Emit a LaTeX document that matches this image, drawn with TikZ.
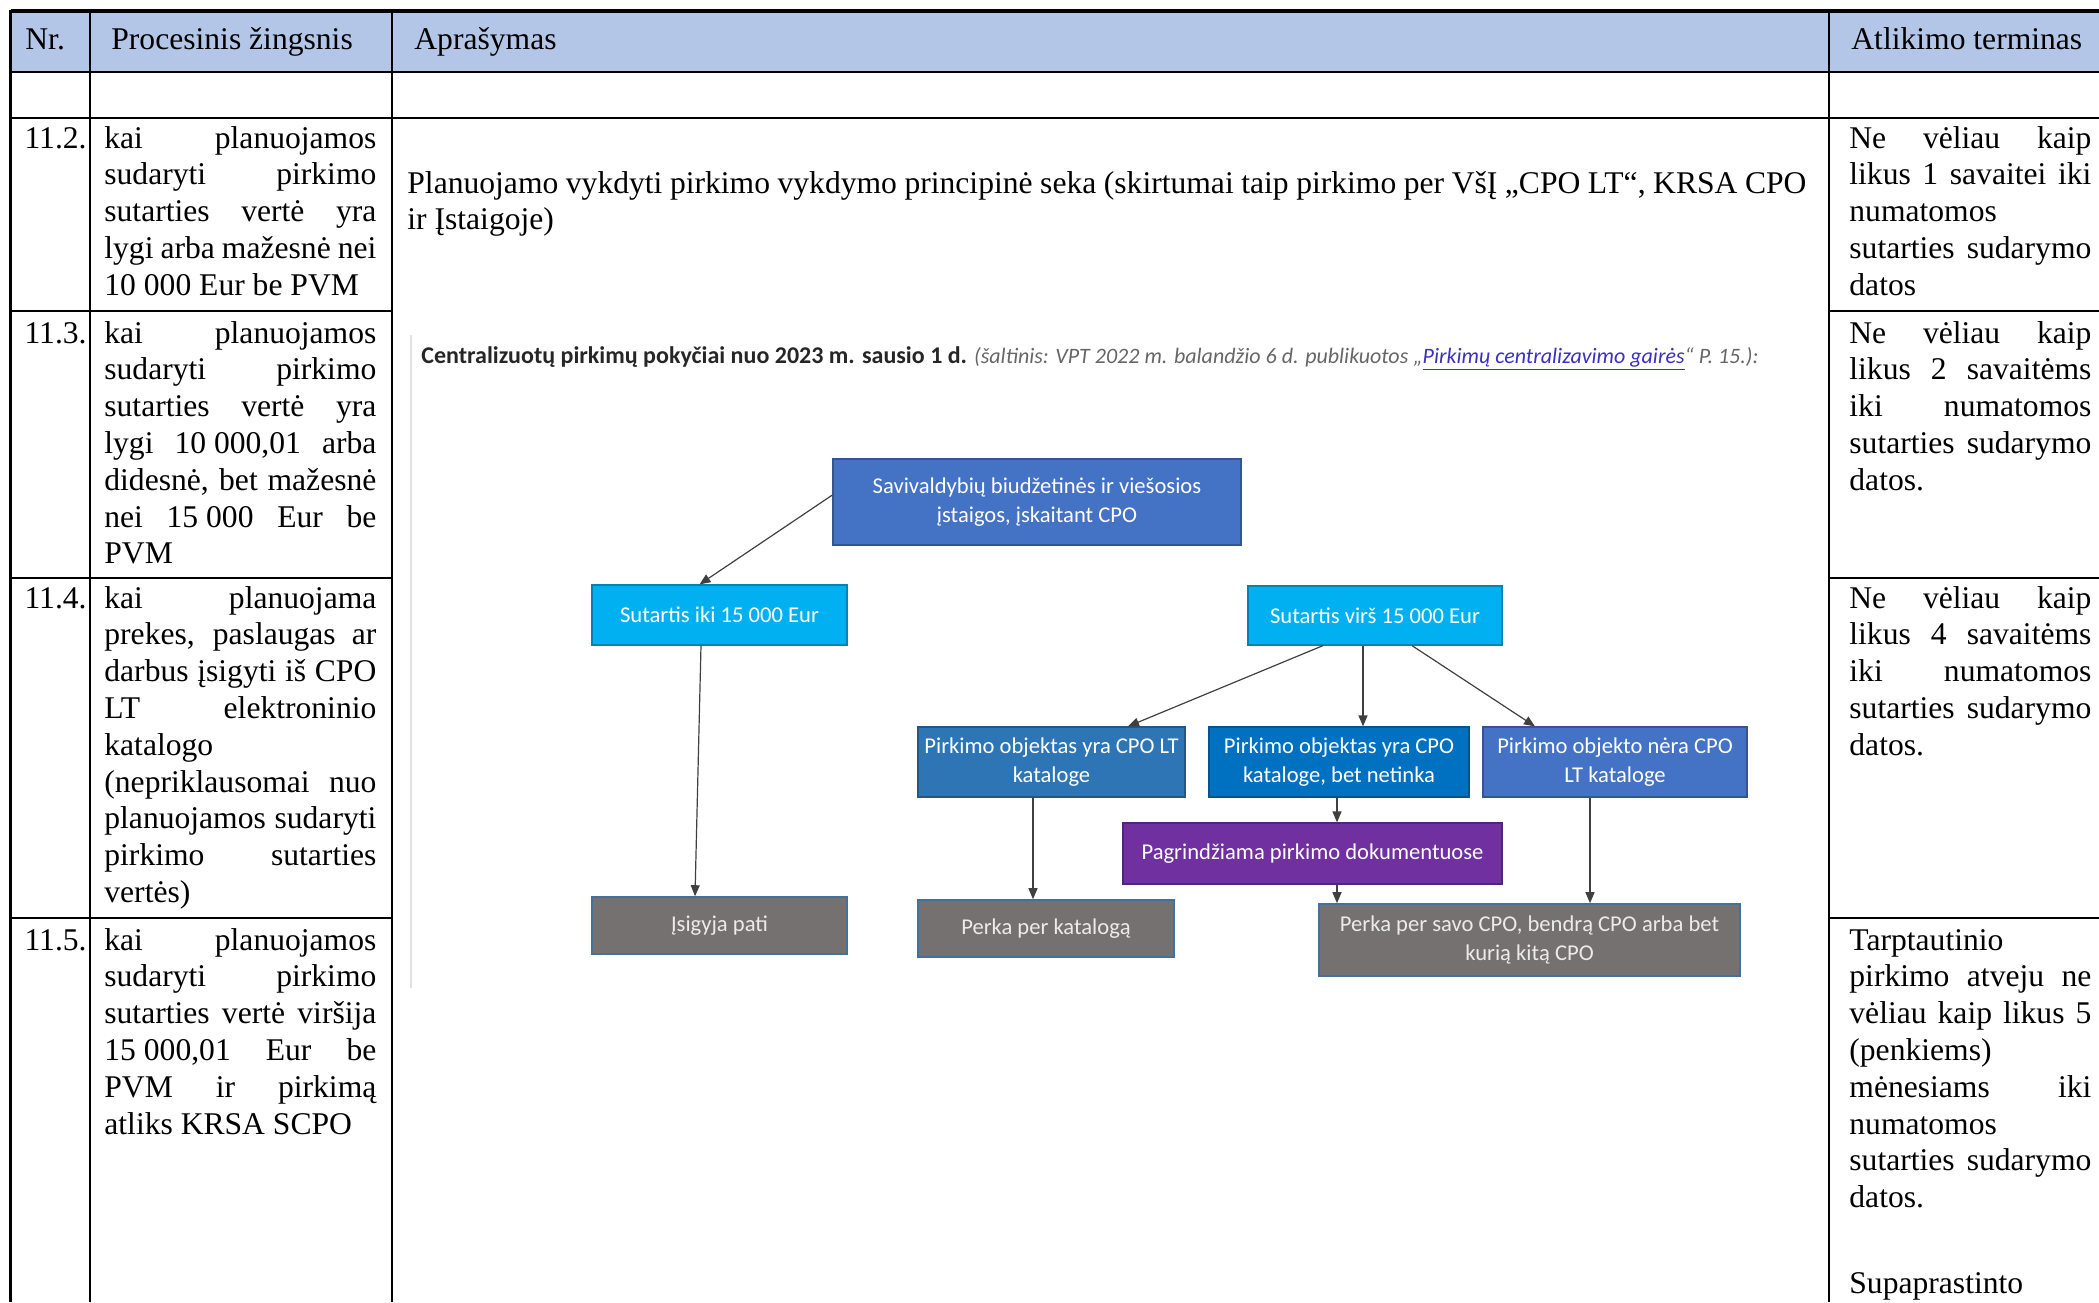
\documentclass[tikz,border=0pt]{standalone}
\usepackage{fontspec}
\setmainfont{Liberation Serif}
\newfontfamily\calfont{Carlito}
\usetikzlibrary{arrows.meta,calc}
\definecolor{hdr}{HTML}{B4C6E7}
\definecolor{cBlue}{HTML}{4472C4}
\definecolor{cCyan}{HTML}{00B0F0}
\definecolor{cMid}{HTML}{2E75B6}
\definecolor{cDeep}{HTML}{0070C0}
\definecolor{cPurp}{HTML}{7030A0}
\definecolor{cGray}{HTML}{767171}
\definecolor{cEdge}{HTML}{41719C}
\definecolor{cLink}{HTML}{3A2FC0}
\definecolor{cNote}{HTML}{666666}
\definecolor{cArr}{HTML}{404040}
\newcommand\cellv[1]{\vtop{\baselineskip=18.4pt\lineskiplimit=-\maxdimen\lineskip=0pt #1}}
\newcommand\JL[2]{\hbox{\makebox[#1][s]{#2}}}
\newcommand\LL[1]{\hbox{#1}}
\newcommand\fs{\hspace{0.25em}}
\begin{document}
\begin{tikzpicture}[x=0.5pt,y=-0.5pt,
  txt/.style={inner sep=0pt, font=\fontsize{15.8}{18.4}\selectfont, anchor=base west},
  num/.style={inner sep=0pt, font=\fontsize{15.8}{18.4}\selectfont, anchor=base east},
  fbox/.style={draw=#1!75!black, fill=#1, line width=0.6pt, text=white, align=center, inner sep=0pt, font=\calfont\fontsize{11.3}{14.7}\selectfont},
  gbox/.style={draw=cEdge, fill=cGray, line width=0.8pt, text=white!92!black, align=center, inner sep=0pt, font=\calfont\fontsize{11.3}{14.7}\selectfont},
  arr/.style={draw=cArr, line width=0.6pt, -{Triangle[length=5.5pt,width=4.5pt]}},
  tblline/.style={line width=1pt, draw=black}
]
\useasboundingbox (0,0) rectangle (2099,1302);
% table
\fill[hdr] (10.7,10.7) rectangle (2099,72);
\draw[line width=2pt] (10.7,11) -- (2099,11);
\draw[tblline] (10.7,72) -- (2099,72);
\draw[tblline] (10.7,118) -- (2099,118);
\draw[line width=1.4pt] (10.7,10) -- (10.7,1302);
\draw[line width=1.2pt] (89.7,10) -- (89.7,1302);
\draw[line width=1.2pt] (392,10) -- (392,1302);
\draw[line width=1.2pt] (1829,10) -- (1829,1302);
\draw[tblline] (10.7,310.6) -- (392,310.6);
\draw[tblline] (10.7,578) -- (392,578);
\draw[tblline] (10.7,918) -- (392,918);
\draw[tblline] (1829,310.6) -- (2099,310.6);
\draw[tblline] (1829,578) -- (2099,578);
\draw[tblline] (1829,918) -- (2099,918);
% header
\node[txt] (h1) at (25,49) {Nr.};
\node[txt] (h2) at (111,49) {Procesinis žingsnis};
\node[txt] (h3) at (414,49) {Aprašymas};
\node[txt] (h4) at (1851,49) {Atlikimo terminas};
% numbers
\node[num] (n1) at (87,148) {11.2.};
\node[num] (n2) at (87,343) {11.3.};
\node[num] (n3) at (87,608) {11.4.};
\node[num] (n4) at (87,950) {11.5.};
% step column
\node[txt] (p1) at (104,148) {\cellv{%
 \JL{136pt}{kai planuojamos}
 \JL{136pt}{sudaryti pirkimo}
 \JL{136pt}{sutarties vertė yra}
 \JL{136pt}{lygi arba mažesnė nei}
 \LL{10\fs000 Eur be PVM}}};
\node[txt] (p2) at (104,343) {\cellv{%
 \JL{136pt}{kai planuojamos}
 \JL{136pt}{sudaryti pirkimo}
 \JL{136pt}{sutarties vertė yra}
 \JL{136pt}{lygi 10\fs000,01 arba}
 \JL{136pt}{didesnė, bet mažesnė}
 \JL{136pt}{nei 15\fs000 Eur be}
 \LL{PVM}}};
\node[txt] (p3) at (104,608) {\cellv{%
 \JL{136pt}{kai planuojama}
 \JL{136pt}{prekes, paslaugas ar}
 \JL{136pt}{darbus įsigyti iš CPO}
 \JL{136pt}{LT elektroninio}
 \LL{katalogo}
 \JL{136pt}{(nepriklausomai nuo}
 \JL{136pt}{planuojamos sudaryti}
 \JL{136pt}{pirkimo sutarties}
 \LL{vertės)}}};
\node[txt] (p4) at (104,950) {\cellv{%
 \JL{136pt}{kai planuojamos}
 \JL{136pt}{sudaryti pirkimo}
 \JL{136pt}{sutarties vertė viršija}
 \JL{136pt}{15\fs000,01 Eur be}
 \JL{136pt}{PVM ir pirkimą}
 \LL{atliks KRSA SCPO}}};
% description
\node[txt] (d1) at (407,193) {\cellv{%
 \JL{699.5pt}{Planuojamo vykdyti pirkimo vykdymo principinė seka (skirtumai taip pirkimo per VšĮ „CPO LT“, KRSA CPO}
 \LL{ir Įstaigoje)}}};
% deadline column
\node[txt] (t1) at (1849,148) {\cellv{%
 \JL{121pt}{Ne vėliau kaip}
 \JL{121pt}{likus 1 savaitei iki}
 \LL{numatomos}
 \JL{121pt}{sutarties sudarymo}
 \LL{datos}}};
\node[txt] (t2) at (1849,343) {\cellv{%
 \JL{121pt}{Ne vėliau kaip}
 \JL{121pt}{likus 2 savaitėms}
 \JL{121pt}{iki numatomos}
 \JL{121pt}{sutarties sudarymo}
 \LL{datos.}}};
\node[txt] (t3) at (1849,608) {\cellv{%
 \JL{121pt}{Ne vėliau kaip}
 \JL{121pt}{likus 4 savaitėms}
 \JL{121pt}{iki numatomos}
 \JL{121pt}{sutarties sudarymo}
 \LL{datos.}}};
\node[txt] (t4) at (1849,950) {\cellv{%
 \LL{Tarptautinio}
 \JL{121pt}{pirkimo atveju ne}
 \JL{121pt}{vėliau kaip likus 5}
 \LL{(penkiems)}
 \JL{121pt}{mėnesiams iki}
 \LL{numatomos}
 \JL{121pt}{sutarties sudarymo}
 \LL{datos.}}};
\node[txt] (t5) at (1849,1293) {Supaprastinto};
% embedded figure
\draw[black!12, line width=0.8pt] (411,335) -- (411,988);
\node[anchor=base west, inner sep=0pt, font=\calfont\fontsize{12}{14}\selectfont, text=black!85] (title) at (421,363)
 {\textbf{Centralizuotų pirkimų pokyčiai nuo 2023 m. sausio 1 d.} {\itshape\color{cNote}\fontsize{11}{14}\selectfont (šaltinis: VPT 2022 m. balandžio 6 d. publikuotos „\textcolor{cLink}{\underline{Pirkimų centralizavimo gairės}}“ P. 15.):}};
\node[fbox=cBlue, minimum width=204pt, minimum height=43pt] (sav) at (1037,502) {Savivaldybių biudžetinės ir viešosios\\įstaigos, įskaitant CPO};
\node[fbox=cCyan, minimum width=127.5pt, minimum height=30pt] (iki) at (719.5,615) {Sutartis iki 15 000 Eur};
\node[fbox=cCyan, minimum width=127pt, minimum height=29.5pt] (virs) at (1375,615.5) {Sutartis virš 15 000 Eur};
\node[fbox=cMid, minimum width=133.5pt, minimum height=35pt] (b4) at (1051.5,762) {Pirkimo objektas yra CPO LT\\kataloge};
\node[fbox=cDeep, minimum width=130pt, minimum height=35pt] (b5) at (1339,762) {Pirkimo objektas yra CPO\\kataloge, bet netinka};
\node[fbox=cBlue, minimum width=132pt, minimum height=35pt] (b6) at (1615,762) {Pirkimo objekto nėra CPO\\LT kataloge};
\node[fbox=cPurp, minimum width=189.5pt, minimum height=30.5pt] (pur) at (1312.5,853.5) {Pagrindžiama pirkimo dokumentuose};
\node[gbox, minimum width=127.5pt, minimum height=28.5pt] (pati) at (719.5,925.5) {Įsigyja pati};
\node[gbox, minimum width=128pt, minimum height=28.5pt] (kat) at (1046,928.5) {Perka per katalogą};
\node[gbox, minimum width=210.5pt, minimum height=36pt] (savo) at (1529.5,940) {Perka per savo CPO, bendrą CPO arba bet\\kurią kitą CPO};
% arrows
\draw[arr] ($(sav.west)+(0,-7)$) -- ($(iki.north)+(-20,0)$);
\draw[arr] ($(iki.south)+(-18.5,0)$) -- ($(pati.north)+(-24.5,0)$);
\draw[arr] ($(virs.south)+(-52,0)$) -- ($(b4.north)+(76.5,0)$);
\draw[arr] ($(virs.south)+(-12,0)$) -- ($(b5.north)+(24,0)$);
\draw[arr] ($(virs.south)+(37,0)$) -- ($(b6.north)+(-80,0)$);
\draw[arr] ($(b4.south)+(-18.5,0)$) -- ($(kat.north)+(-13,0)$);
\draw[arr] ($(b5.south)+(-2,0)$) -- ($(pur.north)+(24.5,0)$);
\draw[arr] ($(pur.south)+(24.5,0)$) -- ($(savo.north)+(-192.5,0)$);
\draw[arr] ($(b6.south)+(-25,0)$) -- ($(savo.north)+(60.5,0)$);
\end{tikzpicture}
\end{document}
